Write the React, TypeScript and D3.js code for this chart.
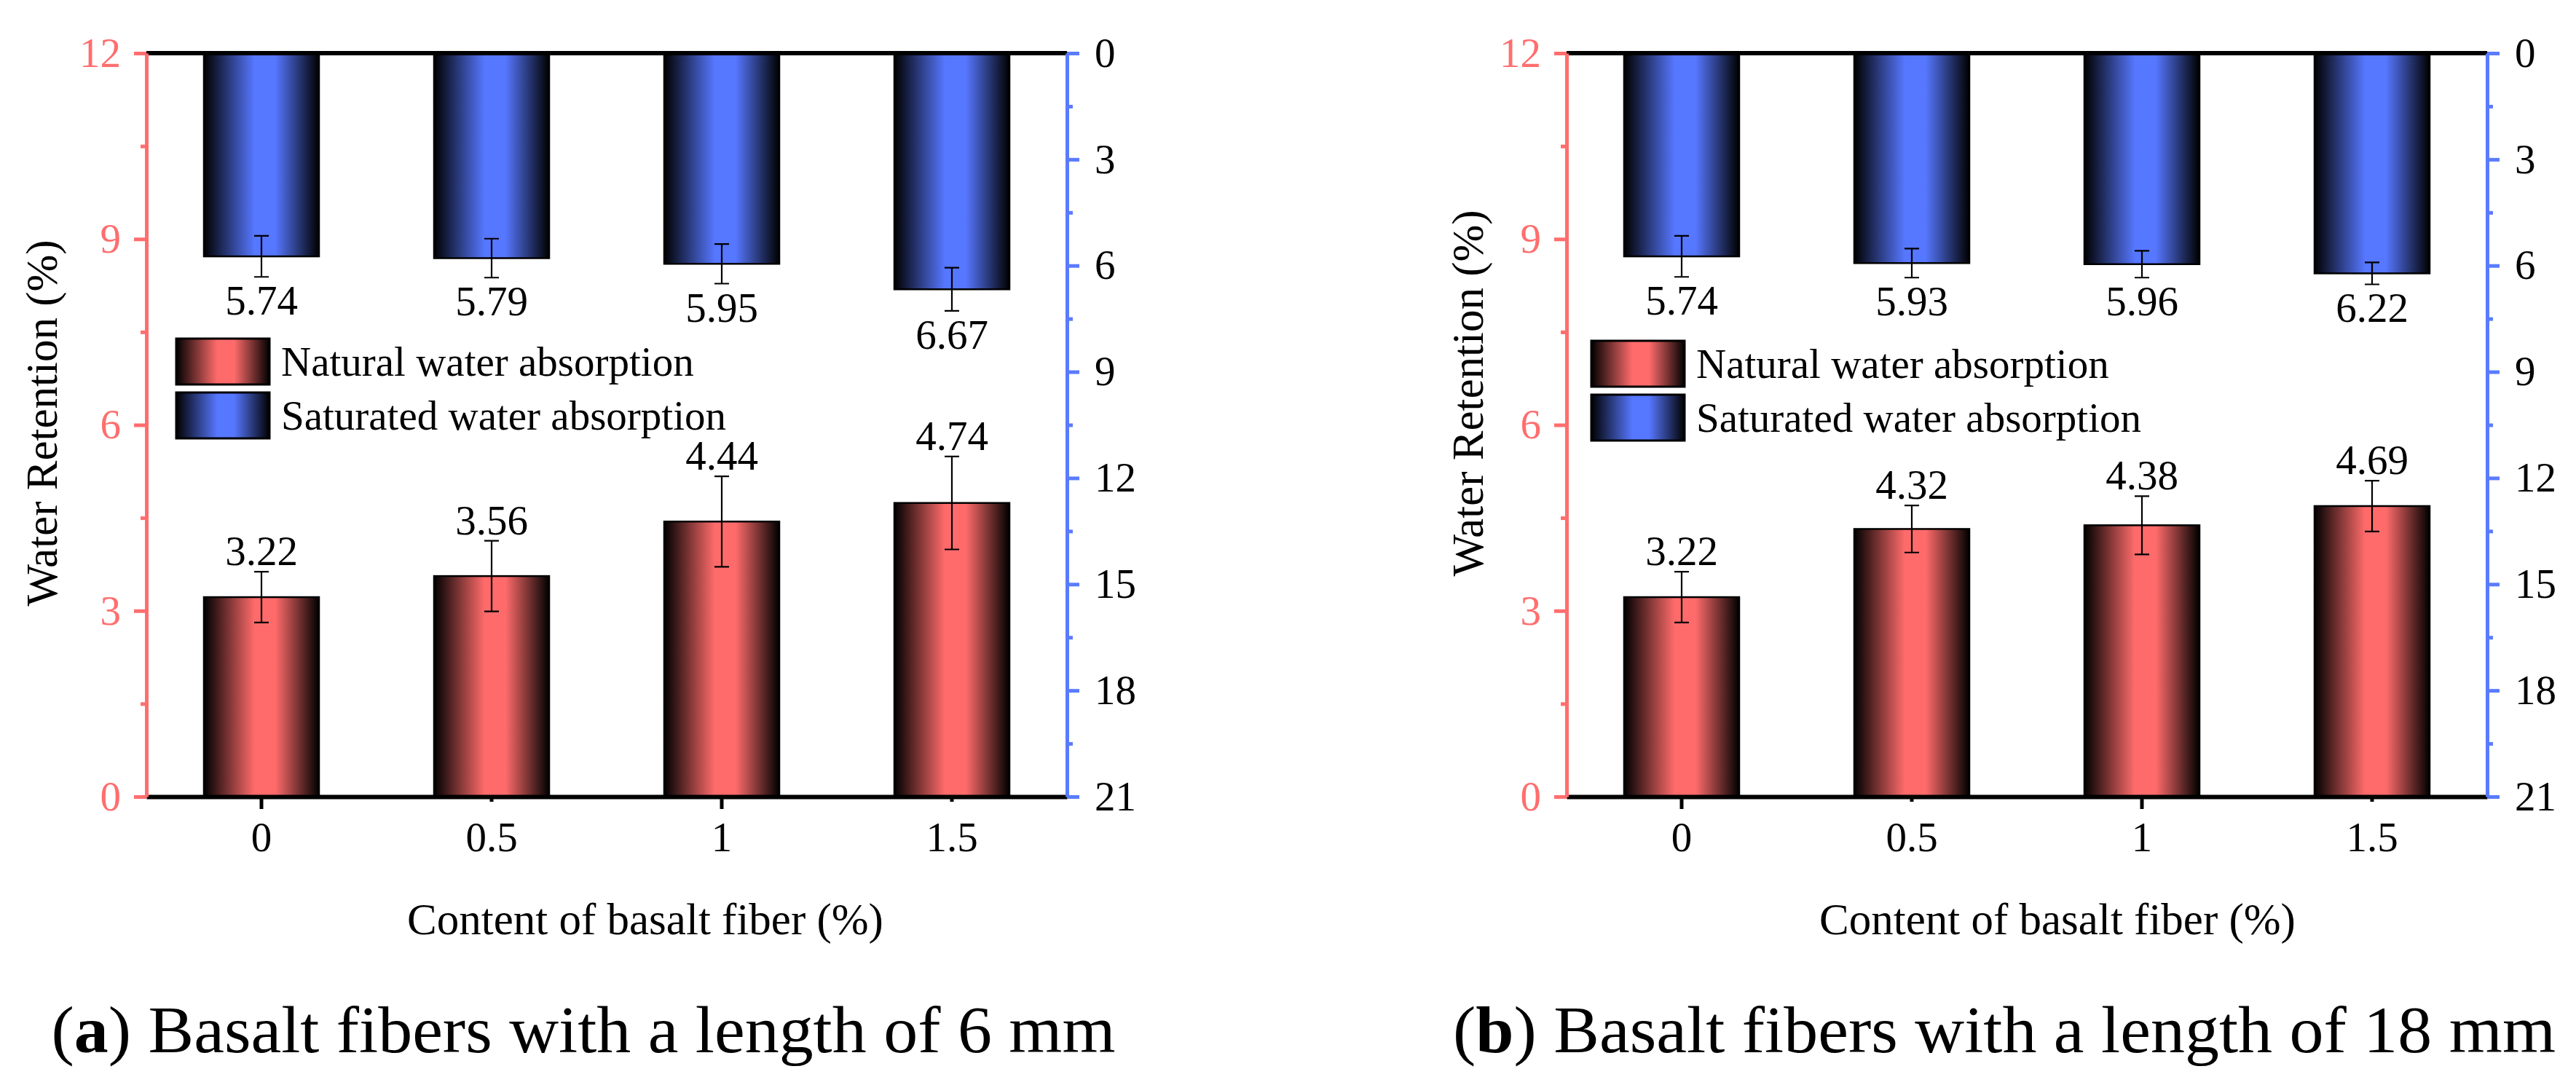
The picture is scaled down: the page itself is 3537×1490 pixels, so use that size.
// @ts-nocheck
import React, { useEffect, useRef } from "react";
import * as d3 from "d3";

const WIDTH = 3537;
const HEIGHT = 1490;

// x categories: content of basalt fiber (%)
const categories = ["0", "0.5", "1", "1.5"];
const majorCategories = ["0", "1"];

// (a) fibers 6 mm long
const natural6 = [3.22, 3.56, 4.44, 4.74];
const natural6Err = [0.41, 0.57, 0.73, 0.75];
const saturated6 = [5.74, 5.79, 5.95, 6.67];
const saturated6Err = [0.58, 0.55, 0.56, 0.61];

// (b) fibers 18 mm long
const natural18 = [3.22, 4.32, 4.38, 4.69];
const natural18Err = [0.41, 0.38, 0.47, 0.41];
const saturated18 = [5.74, 5.93, 5.96, 6.22];
const saturated18Err = [0.58, 0.41, 0.38, 0.31];

const leftTicks = [0, 3, 6, 9, 12];
const leftMinorTicks = [1.5, 4.5, 7.5, 10.5];
const rightTicks = [0, 3, 6, 9, 12, 15, 18, 21];
const rightMinorTicks = [1.5, 4.5, 7.5, 10.5, 13.5, 16.5, 19.5];

const legendLabels = ["Natural water absorption", "Saturated water absorption"];
const yTitle = "Water Retention (%)";
const xTitle = "Content of basalt fiber (%)";

const RED = "#FF6B6B";
const BLUE = "#5677FF";
const RED_AXIS = "#FF6E6E";
const BLUE_AXIS = "#5A7BFF";
const FONT = "Liberation Serif, Times, serif";
const CAPTION_FONT = "Liberation Serif, serif";

const panels = [
  {
    dx: 0,
    natural: natural6,
    naturalErr: natural6Err,
    saturated: saturated6,
    saturatedErr: saturated6Err,
    letter: "a",
    caption: " Basalt fibers with a length of 6 mm",
    captionX: 801,
    captionLength: 1461,
    legendX: 242,
    legendY: 465,
    yTitleX: 78,
    yTitleY: 581,
    xTitleX: 886,
  },
  {
    dx: 1950,
    natural: natural18,
    naturalErr: natural18Err,
    saturated: saturated18,
    saturatedErr: saturated18Err,
    letter: "b",
    caption: " Basalt fibers with a length of 18 mm",
    captionX: 802,
    captionLength: 1514,
    legendX: 235,
    legendY: 468,
    yTitleX: 86,
    yTitleY: 540,
    xTitleX: 875,
  },
];

function addGradient(defs, id, color) {
  const grad = defs.append("linearGradient").attr("id", id).attr("x1", 0).attr("x2", 1).attr("y1", 0).attr("y2", 0);
  grad.append("stop").attr("offset", "0%").attr("stop-color", "#000");
  grad.append("stop").attr("offset", "44%").attr("stop-color", color);
  grad.append("stop").attr("offset", "62%").attr("stop-color", color);
  grad.append("stop").attr("offset", "100%").attr("stop-color", "#000");
}

function styleAxis(axis, color, width, textColor) {
  axis.attr("font-size", 57).style("font-family", FONT);
  axis.select(".domain").attr("stroke", color).attr("stroke-width", width);
  axis.selectAll(".tick line").attr("stroke", color).attr("stroke-width", 5);
  axis.selectAll(".tick text").attr("fill", textColor).style("font-family", FONT);
}

function drawPanel(svg, p) {
  const g = svg.append("g").attr("transform", `translate(${p.dx},0)`);

  const x = d3.scaleBand(categories, [201, 1465]).paddingInner(0.5).paddingOuter(0.25);
  const yLeft = d3.scaleLinear([0, 12], [1094, 73]);
  const yRight = d3.scaleLinear([0, 21], [73, 1094]);
  const [x0, x1] = x.range();
  const bottom = yLeft(0);
  const top = yLeft(12);
  const bw = x.bandwidth();
  const I = d3.range(categories.length);
  const cx = (i) => x(categories[i]) + bw / 2;
  const fmt = d3.format(".2f");

  // bars
  g.append("g")
    .selectAll("rect")
    .data(I)
    .join("rect")
    .attr("x", (i) => x(categories[i]))
    .attr("y", (i) => yLeft(p.natural[i]))
    .attr("width", bw)
    .attr("height", (i) => bottom - yLeft(p.natural[i]))
    .attr("fill", "url(#gradRed)")
    .attr("stroke", "#000")
    .attr("stroke-width", 2.5);

  g.append("g")
    .selectAll("rect")
    .data(I)
    .join("rect")
    .attr("x", (i) => x(categories[i]))
    .attr("y", yRight(0))
    .attr("width", bw)
    .attr("height", (i) => yRight(p.saturated[i]) - yRight(0))
    .attr("fill", "url(#gradBlue)")
    .attr("stroke", "#000")
    .attr("stroke-width", 2.5);

  // error bars
  const errPath = (xc, ya, yb) =>
    `M${xc},${ya}V${yb}M${xc - 10},${ya}H${xc + 10}M${xc - 10},${yb}H${xc + 10}`;
  const errs = g.append("g").attr("stroke", "#000").attr("stroke-width", 2.2).attr("fill", "none");
  errs
    .selectAll(".err-n")
    .data(I)
    .join("path")
    .attr("class", "err-n")
    .attr("d", (i) => errPath(cx(i), yLeft(p.natural[i] + p.naturalErr[i]), yLeft(p.natural[i] - p.naturalErr[i])));
  errs
    .selectAll(".err-s")
    .data(I)
    .join("path")
    .attr("class", "err-s")
    .attr("d", (i) =>
      errPath(cx(i), yRight(p.saturated[i] - p.saturatedErr[i]), yRight(p.saturated[i] + p.saturatedErr[i]))
    );

  // value labels
  const labels = g.append("g").style("font-family", FONT).attr("font-size", 57).attr("text-anchor", "middle").attr("fill", "#000");
  labels
    .selectAll(".lab-n")
    .data(I)
    .join("text")
    .attr("class", "lab-n")
    .attr("x", cx)
    .attr("y", (i) => yLeft(p.natural[i] + p.naturalErr[i]) - 9)
    .text((i) => fmt(p.natural[i]));
  labels
    .selectAll(".lab-s")
    .data(I)
    .join("text")
    .attr("class", "lab-s")
    .attr("x", cx)
    .attr("y", (i) => yRight(p.saturated[i] + p.saturatedErr[i]) + 52)
    .text((i) => fmt(p.saturated[i]));

  // bottom axis (0 and 1 carry the long ticks)
  const axB = g
    .append("g")
    .attr("transform", `translate(0,${bottom})`)
    .call(d3.axisBottom(x).tickSize(17).tickSizeOuter(0).tickPadding(18));
  styleAxis(axB, "#000", 6, "#000");
  axB.selectAll(".tick line").attr("y2", (d) => (majorCategories.includes(d) ? 17 : 7));

  // top frame line
  g.append("line").attr("x1", x0).attr("x2", x1).attr("y1", top).attr("y2", top).attr("stroke", "#000").attr("stroke-width", 6);

  // left axis
  const axL = g
    .append("g")
    .attr("transform", `translate(${x0},0)`)
    .call(d3.axisLeft(yLeft).tickValues(leftTicks).tickSize(17).tickSizeOuter(0).tickPadding(18).tickFormat(d3.format("d")));
  styleAxis(axL, RED_AXIS, 5, RED_AXIS);
  const axLm = g
    .append("g")
    .attr("transform", `translate(${x0},0)`)
    .call(d3.axisLeft(yLeft).tickValues(leftMinorTicks).tickSize(8).tickFormat(() => ""));
  axLm.select(".domain").remove();
  axLm.selectAll(".tick line").attr("stroke", RED_AXIS).attr("stroke-width", 5);

  // right axis (inverted)
  const axR = g
    .append("g")
    .attr("transform", `translate(${x1},0)`)
    .call(d3.axisRight(yRight).tickValues(rightTicks).tickSize(17).tickSizeOuter(0).tickPadding(21).tickFormat(d3.format("d")));
  styleAxis(axR, BLUE_AXIS, 5, "#000");
  const axRm = g
    .append("g")
    .attr("transform", `translate(${x1},0)`)
    .call(d3.axisRight(yRight).tickValues(rightMinorTicks).tickSize(8).tickFormat(() => ""));
  axRm.select(".domain").remove();
  axRm.selectAll(".tick line").attr("stroke", BLUE_AXIS).attr("stroke-width", 5);

  // axis titles
  g.append("text")
    .attr("transform", `translate(${p.yTitleX},${p.yTitleY}) rotate(-90)`)
    .attr("text-anchor", "middle")
    .style("font-family", FONT)
    .attr("font-size", 61)
    .text(yTitle);

  g.append("text")
    .attr("x", p.xTitleX)
    .attr("y", 1283)
    .attr("text-anchor", "middle")
    .style("font-family", FONT)
    .attr("font-size", 61)
    .text(xTitle);

  // legend
  const legend = g.append("g").attr("transform", `translate(${p.legendX},${p.legendY})`);
  const item = legend
    .selectAll("g")
    .data(legendLabels)
    .join("g")
    .attr("transform", (d, i) => `translate(0,${i * 74})`);
  item
    .append("rect")
    .attr("width", 128)
    .attr("height", 63)
    .attr("fill", (d, i) => (i === 0 ? "url(#gradRed)" : "url(#gradBlue)"))
    .attr("stroke", "#000")
    .attr("stroke-width", 3);
  item
    .append("text")
    .attr("x", 144)
    .attr("y", 31.5)
    .attr("dy", "0.35em")
    .style("font-family", FONT)
    .attr("font-size", 57)
    .text((d) => d);

  // caption
  const cap = g
    .append("text")
    .attr("x", p.captionX)
    .attr("y", 1445)
    .attr("text-anchor", "middle")
    .style("font-family", CAPTION_FONT)
    .attr("font-size", 90)
    .attr("textLength", p.captionLength)
    .attr("lengthAdjust", "spacingAndGlyphs");
  cap.append("tspan").text("(");
  cap.append("tspan").attr("font-weight", "bold").text(p.letter);
  cap.append("tspan").text(")" + p.caption);
}

export default function App() {
  const ref = useRef(null);

  useEffect(() => {
    if (!ref.current) return;
    const svg = d3.select(ref.current);
    svg.selectAll("*").remove();

    const defs = svg.append("defs");
    addGradient(defs, "gradRed", RED);
    addGradient(defs, "gradBlue", BLUE);

    svg.append("rect").attr("width", WIDTH).attr("height", HEIGHT).attr("fill", "#fff");

    panels.forEach((p) => drawPanel(svg, p));
  }, []);

  return (
    <svg
      ref={ref}
      width={WIDTH}
      height={HEIGHT}
      viewBox={`0 0 ${WIDTH} ${HEIGHT}`}
      style={{ position: "absolute", left: 0, top: 0, display: "block" }}
    />
  );
}
